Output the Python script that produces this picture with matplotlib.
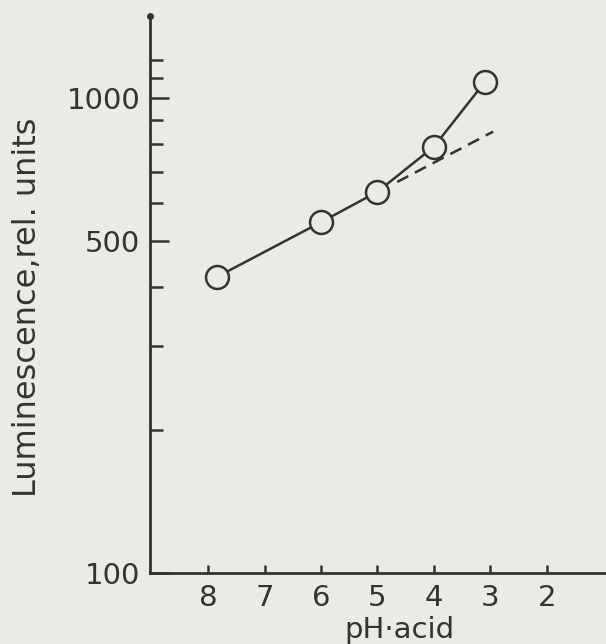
import numpy as np
import matplotlib
matplotlib.use('Agg')
import matplotlib.pyplot as plt
from matplotlib.ticker import FixedLocator, NullFormatter

# luminescence vs pH of the acid
ph = [7.85, 6.0, 5.0, 4.0, 3.1]
lum = [420, 548, 635, 790, 1080]

# dashed extrapolation of the straight part
ph_ext = [4.65, 2.95]
lum_ext = [666, 850]

xticks = [8, 7, 6, 5, 4, 3, 2]
yticks = [100, 500, 1000]
yminor = [200, 300, 400, 600, 700, 800, 900, 1100, 1200]

ink = '#333333'
paper = '#ebeae4'

plt.rcParams['font.family'] = ['DejaVu Sans']
fig = plt.figure(figsize=(6.06, 6.44), dpi=100, facecolor=paper)
ax = fig.add_axes([0.2475, 0.110, 0.7525, 0.865], facecolor=paper)

ax.plot(ph, lum, '-', color=ink, lw=1.8, marker='o', ms=16.5,
        mfc=paper, mec=ink, mew=1.8, zorder=3)
ax.plot(ph_ext, lum_ext, '--', color=ink, lw=1.8, dashes=(5, 3), zorder=2)

ax.set_yscale('log')
ax.set_ylim(100, 1488)
ax.set_xlim(9.03, 0.95)

ax.yaxis.set_major_locator(FixedLocator(yticks))
ax.yaxis.set_minor_locator(FixedLocator(yminor))
ax.set_yticklabels([str(v) for v in yticks])
ax.yaxis.set_minor_formatter(NullFormatter())
ax.set_xticks(xticks)
ax.set_xticklabels([str(v) for v in xticks])

for s in ['top', 'right']:
    ax.spines[s].set_visible(False)
for s in ['left', 'bottom']:
    ax.spines[s].set_color(ink)
    ax.spines[s].set_linewidth(2.0)

ax.tick_params(axis='y', which='major', direction='in', length=14, width=1.8,
               color=ink, labelsize=21, labelcolor=ink, pad=7)
ax.tick_params(axis='y', which='minor', direction='in', length=9, width=1.8, color=ink)
ax.tick_params(axis='x', which='major', direction='in', length=6, width=1.8,
               color=ink, labelsize=21, labelcolor=ink, pad=8)

ax.set_ylabel('Luminescence,rel. units', fontsize=23, color=ink)
ax.yaxis.set_label_coords(-0.235, 0.478)
ax.set_xlabel('pH\u00b7acid', fontsize=21, color=ink, va='baseline')
ax.xaxis.set_label_coords(0.546, -0.116)

# dot at the top end of the y axis
ax.plot([9.03], [1488], 'o', color=ink, ms=4, clip_on=False)

fig.savefig('out.png', dpi=100, facecolor=paper)
